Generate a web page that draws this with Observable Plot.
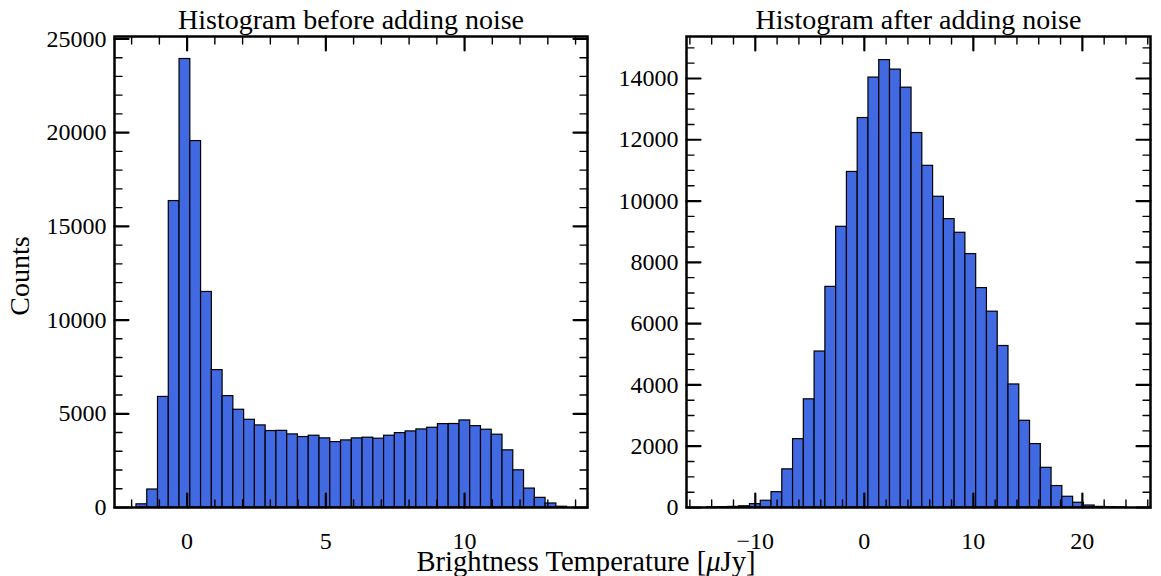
<!DOCTYPE html>
<html>
<head>
<meta charset="utf-8">
<script src="https://cdn.jsdelivr.net/npm/d3@7"></script>
<script src="https://cdn.jsdelivr.net/npm/@observablehq/plot@0.6"></script>
<style>
  html, body { margin: 0; padding: 0; background: white; overflow: hidden; }
  #fig { position: relative; width: 1161px; height: 576px; overflow: hidden; font-family: "Liberation Serif", "DejaVu Serif", serif; }
  #fig > svg { position: absolute; top: 0; }
  #xlabel { position: absolute; top: 548px; left: 586px; transform: translateX(-50%); font-size: 28.6px; line-height: 28px; white-space: nowrap; color: black; }
</style>
</head>
<body>
<div id="fig"></div>
<script>
// ---------------- data ----------------
const leftTitle = "Histogram before adding noise";
const rightTitle = "Histogram after adding noise";
const yLabel = "Counts";

// Left histogram: 40 bins starting at -1.825, bin width 0.388
const leftBinStart = -1.825;
const leftBinWidth = 0.388;
const leftCounts = [170, 960, 5900, 16350, 23930, 19550, 11500, 7330, 5945, 5215,
                    4680, 4380, 4080, 4090, 3900, 3760, 3830, 3690, 3490, 3580,
                    3690, 3725, 3670, 3830, 3970, 4060, 4165, 4255, 4450, 4455,
                    4645, 4340, 4150, 3885, 3050, 1985, 1010, 515, 215, 40];

// Right histogram: 39 bins starting at -14.44, bin width 0.988
const rightBinStart = -14.44;
const rightBinWidth = 0.988;
const rightCounts = [5, 10, 20, 40, 110, 220, 500, 1245, 2230, 3530,
                     5090, 7200, 9160, 10950, 12710, 14030, 14600, 14290, 13700, 12220,
                     11150, 10140, 9410, 8965, 8270, 7160, 6390, 5270, 4015, 2830,
                     2070, 1295, 700, 350, 155, 65, 20, 8, 3];

// axis ranges and ticks
const leftXDomain = [-2.617, 14.43];
const leftYDomain = [0, 25130];
const leftXMajor = [0, 5, 10];
const leftXMinor = [-2, -1, 1, 2, 3, 4, 6, 7, 8, 9, 11, 12, 13, 14];
const leftYMajor = [0, 5000, 10000, 15000, 20000, 25000];
const leftYMinor = [1000, 2000, 3000, 4000, 6000, 7000, 8000, 9000, 11000, 12000, 13000, 14000,
                    16000, 17000, 18000, 19000, 21000, 22000, 23000, 24000];

const rightXDomain = [-16.31, 26.25];
const rightYDomain = [0, 15370];
const rightXMajor = [-10, 0, 10, 20];
const rightXMinor = [-16, -14, -12, -8, -6, -4, -2, 2, 4, 6, 8, 12, 14, 16, 18, 22, 24, 26];
const rightYMajor = [0, 2000, 4000, 6000, 8000, 10000, 12000, 14000];
const rightYMinor = [500, 1000, 1500, 2500, 3000, 3500, 4500, 5000, 5500, 6500, 7000, 7500,
                     8500, 9000, 9500, 10500, 11000, 11500, 12500, 13000, 13500, 14500, 15000];

// ---------------- helpers ----------------
const fmt = d => (d < 0 ? "\u2212" + Math.abs(d) : String(d));
const tickShape = { draw(ctx, l) { ctx.moveTo(0, 0); ctx.lineTo(0, -l); } };
const MAJ = 14, MIN = 7.5;

function ticks(vals, dim, len, sw) {
  const common = { length: len, anchor: "start", shape: tickShape, stroke: "black", strokeWidth: sw };
  if (dim === "x") {
    return [
      Plot.vector(vals, { ...common, x: d => d, frameAnchor: "bottom", rotate: 0 }),
      Plot.vector(vals, { ...common, x: d => d, frameAnchor: "top", rotate: 180 })
    ];
  }
  return [
    Plot.vector(vals, { ...common, y: d => d, frameAnchor: "left", rotate: 90 }),
    Plot.vector(vals, { ...common, y: d => d, frameAnchor: "right", rotate: -90 })
  ];
}

function panel({ counts, binStart, binWidth, xDomain, yDomain, xMajor, xMinor, yMajor, yMinor,
                 title, width, marginLeft, marginRight, withYLabel }) {
  const table = counts.map((c, i) => ({ x1: binStart + i * binWidth, x2: binStart + (i + 1) * binWidth, count: c }));
  const marks = [
    Plot.rectY(table, { x1: "x1", x2: "x2", y: "count", fill: "#4169E1", stroke: "black", strokeWidth: 1.2 }),
    ...ticks(xMinor, "x", MIN, 1.4),
    ...ticks(xMajor, "x", MAJ, 2.2),
    ...ticks(yMinor, "y", MIN, 1.4),
    ...ticks(yMajor, "y", MAJ, 2.2),
    Plot.axisX({ ticks: xMajor, tickSize: 0, tickPadding: 24, tickFormat: fmt, label: null, fontSize: 24 }),
    Plot.axisY({ ticks: yMajor, tickSize: 0, tickPadding: 8, tickFormat: fmt, label: null, fontSize: 24 }),
    Plot.frame({ stroke: "black", strokeWidth: 2.5 }),
    Plot.text([title], { frameAnchor: "top", dy: -8, lineAnchor: "bottom", fontSize: 28 })
  ];
  if (withYLabel) {
    marks.push(Plot.text([yLabel], { frameAnchor: "left", textAnchor: "middle", dx: -86, dy: 4, rotate: -90, lineAnchor: "bottom", fontSize: 28 }));
  }
  return Plot.plot({
    width, height: 576,
    marginLeft, marginRight, marginTop: 36, marginBottom: 69,
    x: { domain: xDomain },
    y: { domain: yDomain },
    style: { fontFamily: "Liberation Serif", fontSize: "24px", color: "black", background: "transparent", overflow: "visible" },
    marks
  });
}

const fig = document.getElementById("fig");

const left = panel({
  counts: leftCounts, binStart: leftBinStart, binWidth: leftBinWidth,
  xDomain: leftXDomain, yDomain: leftYDomain,
  xMajor: leftXMajor, xMinor: leftXMinor, yMajor: leftYMajor, yMinor: leftYMinor,
  title: leftTitle, width: 600, marginLeft: 114, marginRight: 13, withYLabel: true
});
left.style.left = "0px";
fig.appendChild(left);

const right = panel({
  counts: rightCounts, binStart: rightBinStart, binWidth: rightBinWidth,
  xDomain: rightXDomain, yDomain: rightYDomain,
  xMajor: rightXMajor, xMinor: rightXMinor, yMajor: rightYMajor, yMinor: rightYMinor,
  title: rightTitle, width: 561, marginLeft: 86, marginRight: 11, withYLabel: false
});
right.style.left = "600px";
fig.appendChild(right);

const xl = document.createElement("div");
xl.id = "xlabel";
xl.innerHTML = "Brightness Temperature [<i>\u03BC</i>Jy]";
fig.appendChild(xl);
</script>
</body>
</html>
